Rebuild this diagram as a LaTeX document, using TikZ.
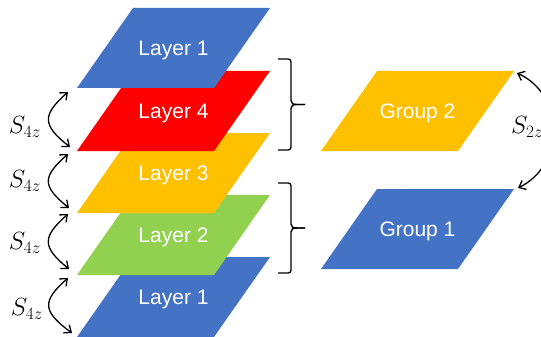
\documentclass[tikz,border=0pt]{standalone}
\usepackage{fontspec}
\setmainfont{Liberation Sans}
\usetikzlibrary{arrows.meta,calc}
\definecolor{oblue}{HTML}{4472C4}
\definecolor{ored}{HTML}{FF0000}
\definecolor{oyellow}{HTML}{FFC000}
\definecolor{ogreen}{HTML}{92D050}
% name, top-left x, top y, colour, text
\newcommand\myplane[5]{%
  \fill[#4] (#2,#3) coordinate (#1-tl) -- ++(137,0) coordinate (#1-tr)
    -- ++(-56,80) coordinate (#1-br) -- ++(-137,0) coordinate (#1-bl) -- cycle;
  \node[lbl] (#1) at (#2+40.5,#3+42) {#5};}
\begin{document}
\begin{tikzpicture}[x=1pt,y=-1pt,
  lbl/.style={text=white,font=\fontsize{21}{25}\selectfont,inner sep=0pt},
  mlbl/.style={text=black,font=\fontsize{23}{27}\selectfont,inner sep=0pt},
  dbl/.style={black,line width=1.3pt,
    {Straight Barb[length=6pt,width=10pt]}-{Straight Barb[length=6pt,width=10pt]}},
  bline/.style={black,line width=1.4pt,line join=round}]
\path[use as bounding box,clip] (0,0) rectangle (541,337);
% layer stack, bottom first
\myplane{L1bot}{133}{257}{oblue}{Layer 1}
\myplane{L2}{133}{195}{ogreen}{Layer 2}
\myplane{L3}{133}{133}{oyellow}{Layer 3}
\myplane{L4}{133}{71}{ored}{Layer 4}
\myplane{L1top}{133}{8}{oblue}{Layer 1}
% groups
\myplane{G2}{377}{71}{oyellow}{Group 2}
\myplane{G1}{377}{189}{oblue}{Group 1}
% left spacing arrows
\coordinate (s1a) at (68,92);  \coordinate (s1b) at (70,147);
\coordinate (s2a) at (68,154); \coordinate (s2b) at (69,208);
\coordinate (s3a) at (68,214); \coordinate (s3b) at (69,269);
\coordinate (s4a) at (68,278); \coordinate (s4b) at (72,333);
\draw[dbl] (s1a) .. controls +(-26,23) and +(-28,-22) .. (s1b);
\draw[dbl] (s2a) .. controls +(-26,23) and +(-27,-22) .. (s2b);
\draw[dbl] (s3a) .. controls +(-26,23) and +(-27,-22) .. (s3b);
\draw[dbl] (s4a) .. controls +(-26,23) and +(-30,-22) .. (s4b);
\node[mlbl] (t1) at (25,127) {$S_{4z}$};
\node[mlbl] (t2) at (25,181) {$S_{4z}$};
\node[mlbl] (t3) at (25,243) {$S_{4z}$};
\node[mlbl] (t4) at (27,309) {$S_{4z}$};
% braces
\coordinate (b1t) at (278,59);  \coordinate (b1b) at (278,150);
\coordinate (b2t) at (278,183); \coordinate (b2b) at (278,273);
\draw[bline] (b1t) -- ++(10,0) .. controls +(2,0) and +(0,-2) .. ++(3,3)
  -- ++(0,38.5) .. controls +(0,3) and +(-4,0) .. ++(6,4) -- ++(8,0);
\draw[bline] (b1b) -- ++(10,0) .. controls +(2,0) and +(0,2) .. ++(3,-3)
  -- ++(0,-38.5) .. controls +(0,-3) and +(-4,0) .. ++(6,-4) -- ++(8,0);
\draw[bline] (b2t) -- ++(10,0) .. controls +(2,0) and +(0,-2) .. ++(3,3)
  -- ++(0,38) .. controls +(0,3) and +(-4,0) .. ++(6,4) -- ++(8,0);
\draw[bline] (b2b) -- ++(10,0) .. controls +(2,0) and +(0,2) .. ++(3,-3)
  -- ++(0,-38) .. controls +(0,-3) and +(-4,0) .. ++(6,-4) -- ++(8,0);
% group spacing arrow
\coordinate (g2a) at (517,73); \coordinate (g2b) at (518,188);
\draw[dbl] (g2a) .. controls +(48,22) and +(47,-23) .. (g2b);
\node[mlbl,anchor=west] (t5) at (511,127) {$S_{2z}$};
\end{tikzpicture}
\end{document}
